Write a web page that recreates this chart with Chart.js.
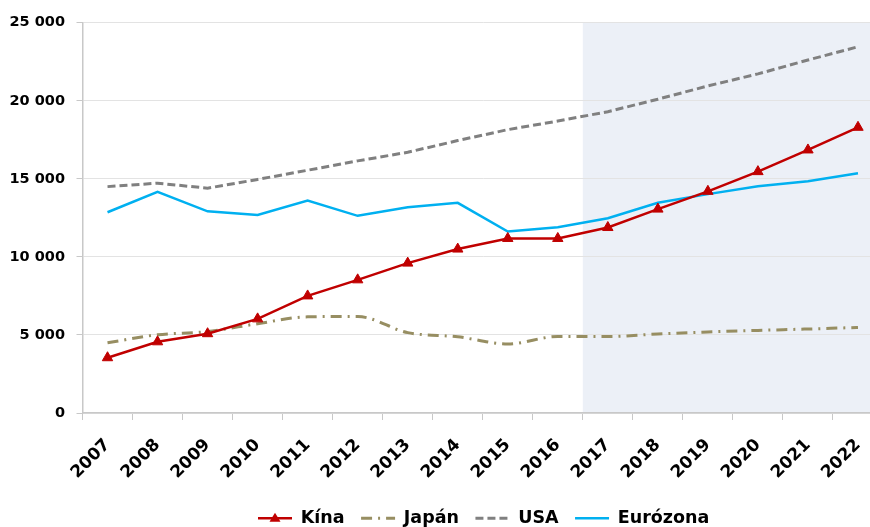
<!DOCTYPE html>
<html>
<head>
<meta charset="utf-8">
<script src="https://cdn.jsdelivr.net/npm/chart.js@4/dist/chart.umd.min.js"></script>
<style>
  html, body { margin: 0; padding: 0; background: #fff; overflow: hidden; }
  #wrap { position: relative; width: 890px; height: 527px; }
</style>
</head>
<body>
<div id="wrap"><canvas id="c"></canvas></div>
<script>
const years = ['2007','2008','2009','2010','2011','2012','2013','2014','2015','2016','2017','2018','2019','2020','2021','2022'];
const kina     = [3540, 4560, 5080, 6030, 7500, 8530, 9600, 10500, 11180, 11180, 11880, 13060, 14200, 15460, 16850, 18300];
const japan    = [4500, 5010, 5220, 5720, 6160, 6180, 5150, 4880, 4420, 4900, 4900, 5060, 5190, 5290, 5380, 5480];
const usa      = [14500, 14720, 14400, 14960, 15550, 16150, 16700, 17450, 18150, 18700, 19300, 20100, 20950, 21720, 22610, 23460];
const euro     = [12860, 14160, 12920, 12690, 13610, 12630, 13180, 13460, 11620, 11900, 12480, 13470, 14020, 14520, 14850, 15360];
const yTicks   = [0, 5000, 10000, 15000, 20000, 25000];
const shadeFrom = '2017';

const FONT = '"DejaVu Sans", sans-serif';
const LEGEND_LEFT = 258;

const shadePlugin = {
  id: 'shade',
  beforeDraw(chart) {
    const {ctx, chartArea, scales} = chart;
    const i = years.indexOf(shadeFrom);
    const x0 = (scales.x.getPixelForValue(i - 1) + scales.x.getPixelForValue(i)) / 2;
    ctx.save();
    ctx.fillStyle = '#ECF0F7';
    ctx.fillRect(x0, chartArea.top, chartArea.right - x0, chartArea.bottom - chartArea.top);
    ctx.restore();
  }
};

const legendTweak = {
  id: 'legendTweak',
  afterUpdate(chart) {
    const lg = chart.legend;
    if (!lg || !lg.legendHitBoxes || !lg.legendHitBoxes.length) return;
    const dx = LEGEND_LEFT - lg.legendHitBoxes[0].left;
    lg.left += dx; lg.right += dx;
    lg.legendHitBoxes.forEach(b => { b.left += dx; });
  },
  afterDraw(chart) {
    const lg = chart.legend;
    if (!lg || !lg.legendHitBoxes || !lg.legendHitBoxes.length) return;
    const b = lg.legendHitBoxes[0];
    const bw = lg.options.labels.pointStyleWidth;
    const cx = b.left + bw / 2, cy = b.top + b.height / 2;
    const ctx = chart.ctx;
    ctx.save();
    ctx.fillStyle = '#C00000';
    ctx.beginPath();
    ctx.moveTo(cx, cy - 5.5);
    ctx.lineTo(cx + 5.5, cy + 3.5);
    ctx.lineTo(cx - 5.5, cy + 3.5);
    ctx.closePath();
    ctx.fill();
    ctx.restore();
  }
};

new Chart(document.getElementById('c'), {
  type: 'line',
  data: {
    labels: years,
    datasets: [
      { label: 'Kína', data: kina, borderColor: '#C00000', backgroundColor: '#C00000', borderWidth: 2.5,
        pointStyle: 'triangle', pointRadius: 6, pointBackgroundColor: '#C00000', pointBorderColor: '#C00000', pointBorderWidth: 1, tension: 0 },
      { label: 'Japán', data: japan, borderColor: '#978E62', backgroundColor: '#978E62', borderWidth: 3,
        borderDash: [11, 6, 2, 6], pointRadius: 0, tension: 0.4, cubicInterpolationMode: 'monotone' },
      { label: 'USA', data: usa, borderColor: '#808080', backgroundColor: '#808080', borderWidth: 3,
        borderDash: [8, 4], pointRadius: 0, tension: 0 },
      { label: 'Eurózona', data: euro, borderColor: '#00B0F0', backgroundColor: '#00B0F0', borderWidth: 2.5,
        pointRadius: 0, tension: 0 }
    ]
  },
  options: {
    responsive: true,
    maintainAspectRatio: false,
    animation: false,
    layout: { padding: { top: 22.7, left: 0, right: 0, bottom: -10 } },
    plugins: {
      tooltip: { enabled: false },
      legend: {
        position: 'bottom',
        labels: {
          usePointStyle: true,
          pointStyleWidth: 34,
          boxHeight: 10,
          padding: 16.5,
          color: '#000',
          font: { family: FONT, size: 17.5, weight: 'bold' },
          generateLabels(chart) {
            return chart.data.datasets.map((ds, i) => ({
              text: ds.label,
              fillStyle: ds.borderColor,
              strokeStyle: ds.borderColor,
              lineWidth: ds.borderWidth,
              lineDash: ds.borderDash || [],
              pointStyle: 'line',
              fontColor: '#000',
              hidden: false,
              datasetIndex: i
            }));
          }
        }
      }
    },
    scales: {
      x: {
        type: 'category',
        offset: true,
        grid: { display: true, drawOnChartArea: false, offset: true, tickLength: 7, color: '#C8C8C8', tickColor: '#C8C8C8' },
        border: { display: true, color: '#C8C8C8', width: 1.5 },
        ticks: { color: '#000', minRotation: 45, maxRotation: 45, padding: 15, autoSkip: false,
                 font: { family: FONT, size: 17, weight: 'bold' } },
        afterFit(s) { s.height = 80; }
      },
      y: {
        min: 0, max: 25000,
        afterBuildTicks(s) { s.ticks = yTicks.map(v => ({ value: v })); },
        grid: { color: '#E3E3E3', tickLength: 6, tickColor: '#C8C8C8', lineWidth: 1 },
        border: { display: true, color: '#C8C8C8', width: 1.5 },
        ticks: { color: '#000', padding: 11.5,
                 font: { family: FONT, size: 14.5, weight: 'bold' },
                 callback(v) { return String(v).replace(/\B(?=(\d{3})+(?!\d))/g, ' '); } },
        afterFit(s) { s.width = 82.5; }
      }
    }
  },
  plugins: [shadePlugin, legendTweak]
});
</script>
</body>
</html>
